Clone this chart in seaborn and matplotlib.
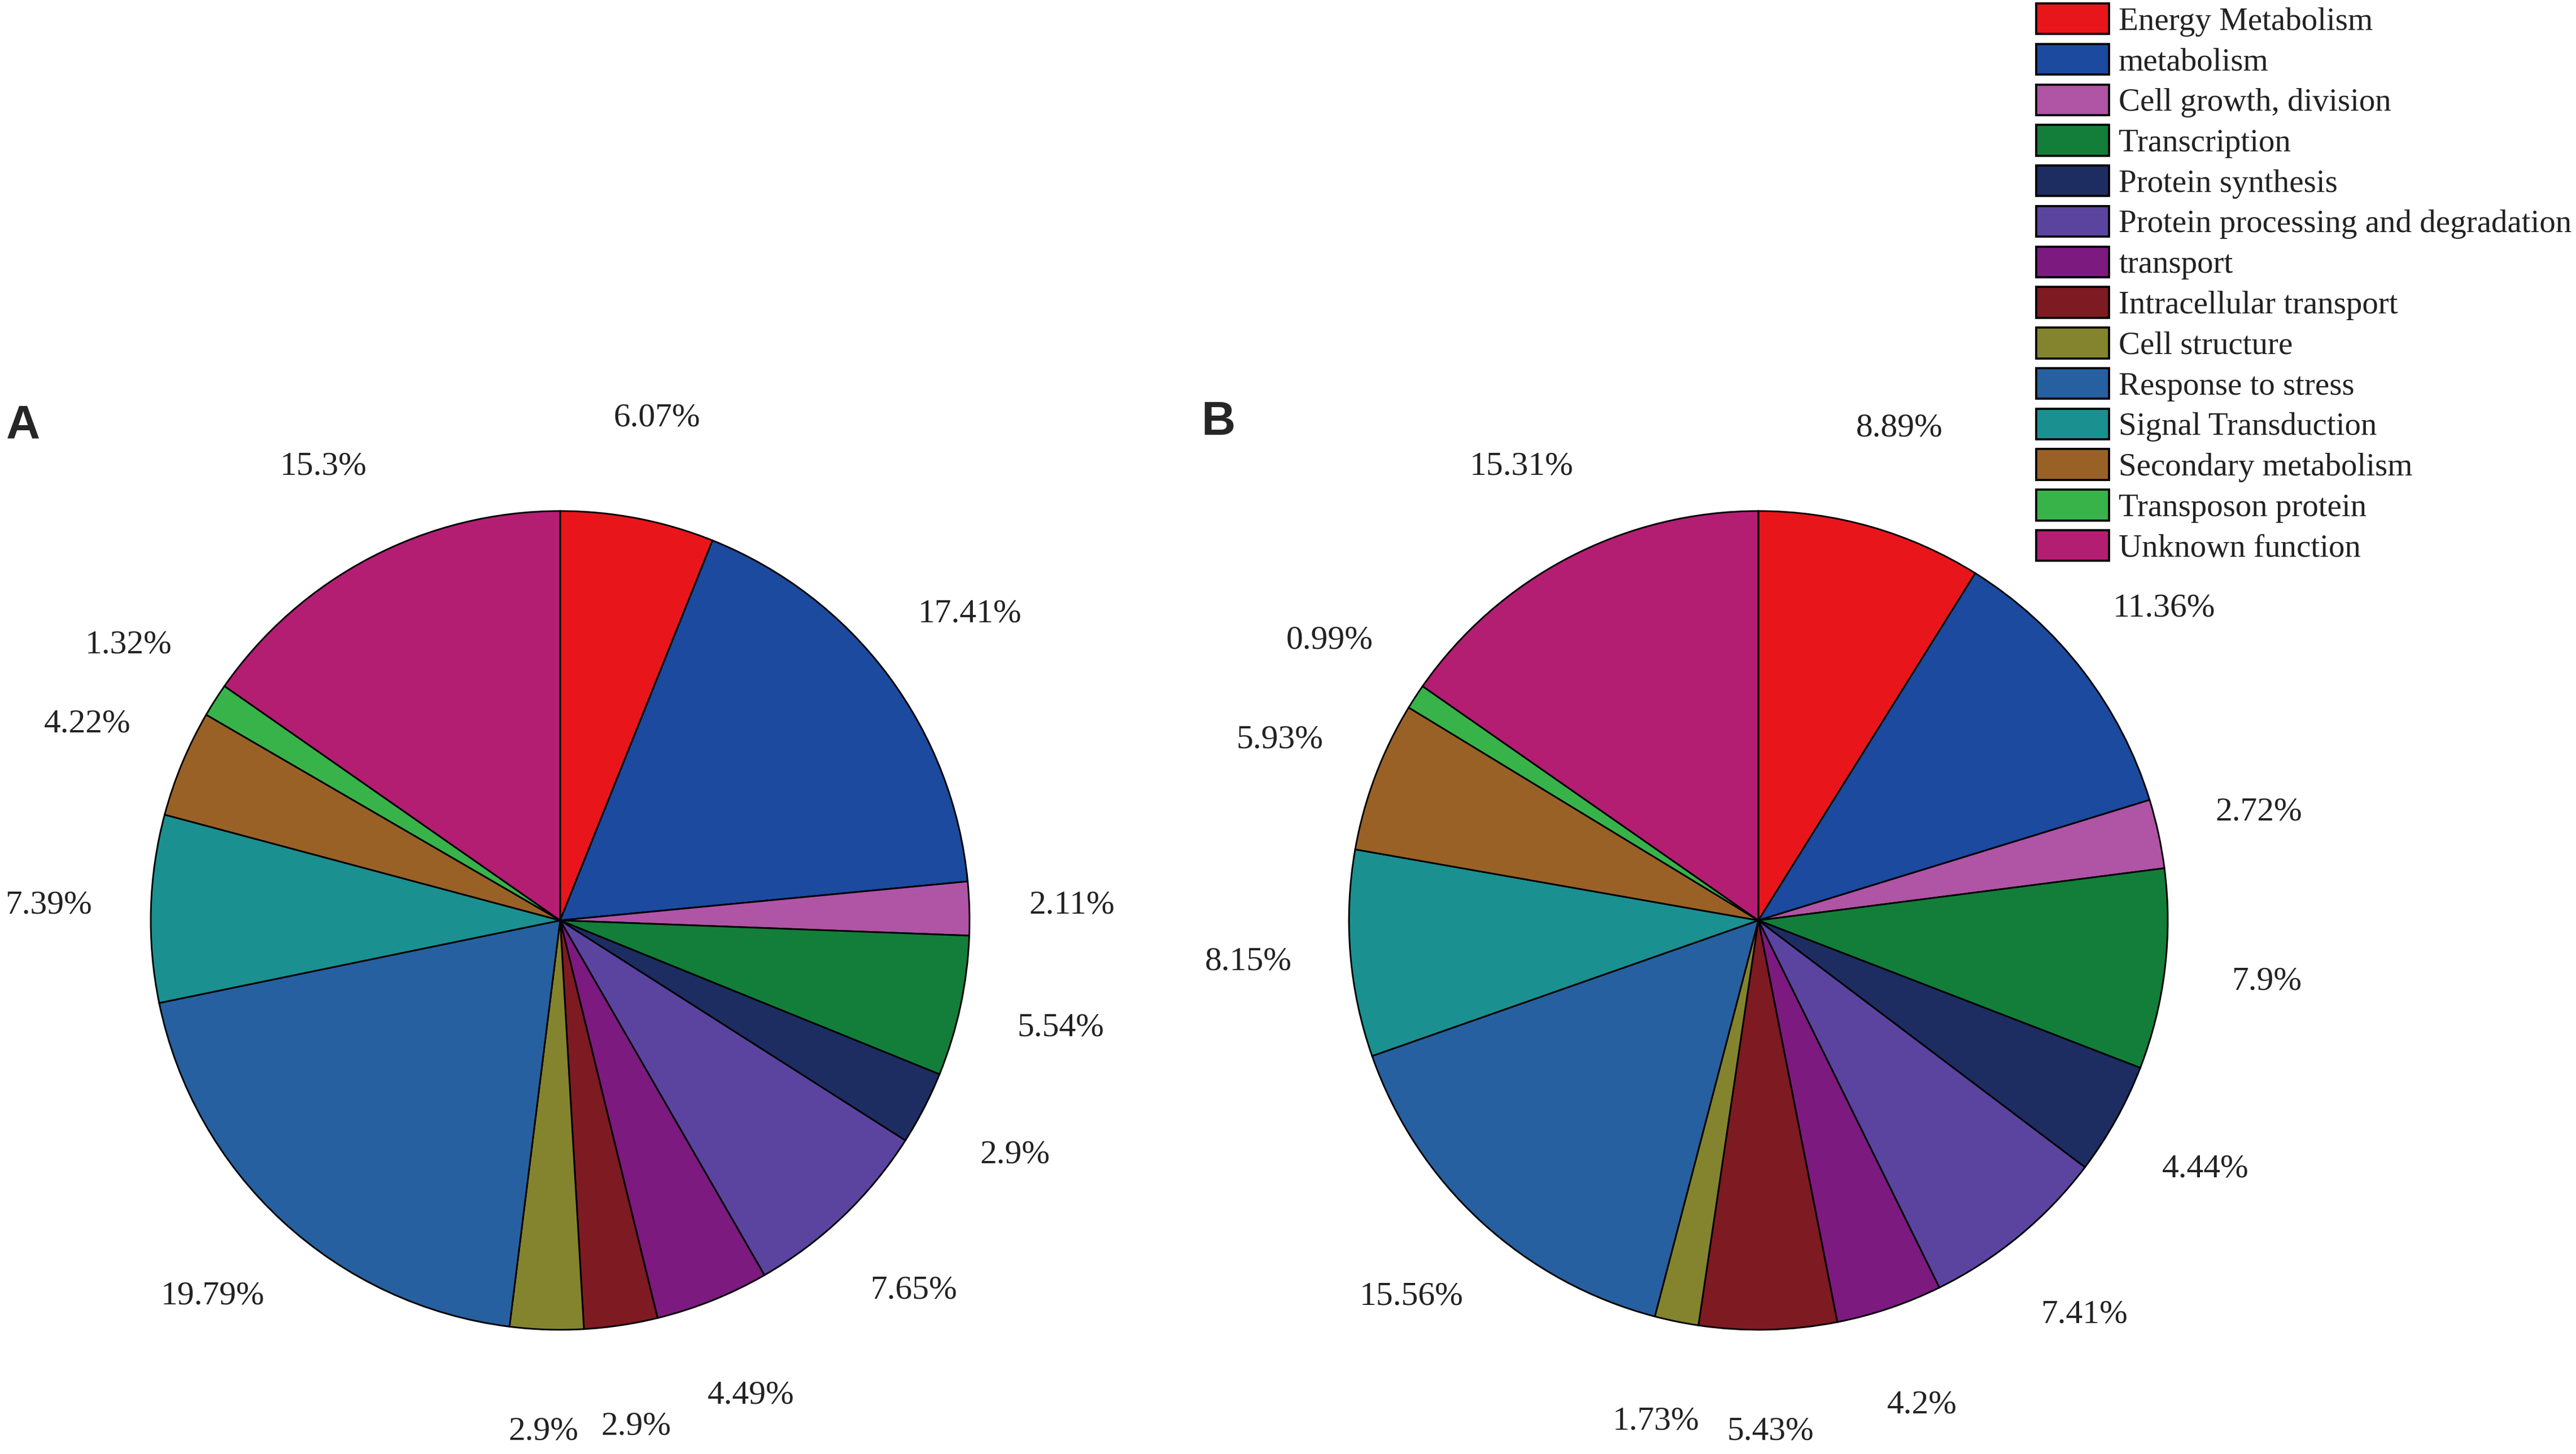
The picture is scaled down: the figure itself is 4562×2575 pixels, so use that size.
import matplotlib.pyplot as plt
import seaborn as sns
from matplotlib.patches import Patch

categories = ['Energy Metabolism', 'metabolism', 'Cell growth, division', 'Transcription',
              'Protein synthesis', 'Protein processing and degradation', 'transport',
              'Intracellular transport', 'Cell structure', 'Response to stress',
              'Signal Transduction', 'Secondary metabolism', 'Transposon protein',
              'Unknown function']
values_a = [6.07, 17.41, 2.11, 5.54, 2.9, 7.65, 4.49, 2.9, 2.9, 19.79, 7.39, 4.22, 1.32, 15.3]
values_b = [8.89, 11.36, 2.72, 7.9, 4.44, 7.41, 4.2, 5.43, 1.73, 15.56, 8.15, 5.93, 0.99, 15.31]
colors = ['#e8161b', '#1b4a9f', '#b054a5', '#127e3a', '#1d2d62', '#5b44a0', '#7c1a80',
          '#7e1a22', '#84842e', '#2660a0', '#1b9090', '#9a6126', '#38b34a', '#b31e73']

sns.set_theme(style='white')
plt.rcParams['font.family'] = ['Liberation Serif', 'DejaVu Serif']

W, H = 4562, 2575
fig = plt.figure(figsize=(W / 300, H / 300), dpi=300)
palette = sns.color_palette(colors)


def draw_pie(cx, values):
    r = 725
    ax = fig.add_axes([(cx - r) / W, (H - 1630 - r) / H, 2 * r / W, 2 * r / H])
    labels = [f'{v:g}%' for v in values]
    wedges, texts = ax.pie(values, labels=labels, colors=palette, startangle=90,
                           counterclock=False, labeldistance=1.25,
                           wedgeprops=dict(edgecolor='black', linewidth=0.7),
                           textprops=dict(fontsize=14.3, color='#222222'))
    for t in texts:
        t.set_ha('center')
    ax.set_xlim(-1, 1)
    ax.set_ylim(-1, 1)
    ax.set_aspect('equal')
    return ax


draw_pie(992, values_a)
draw_pie(3114, values_b)

fig.text(11 / W, 1 - 755 / H, 'A', fontsize=20, fontweight='bold',
         family='Liberation Sans', ha='left', va='center')
fig.text(2127 / W, 1 - 748 / H, 'B', fontsize=20, fontweight='bold',
         family='Liberation Sans', ha='left', va='center')

handles = [Patch(facecolor=c, edgecolor='black', linewidth=0.9) for c in colors]
fig.legend(handles, categories, loc='upper left',
           bbox_to_anchor=(3606 / W, 1 - 6 / H), frameon=False,
           borderaxespad=0, borderpad=0, fontsize=13.7, handlelength=2.26,
           handleheight=1.09, handletextpad=0.3, labelspacing=0.23,
           labelcolor='#222222')

fig.savefig('out.png', dpi=300, facecolor='white')
